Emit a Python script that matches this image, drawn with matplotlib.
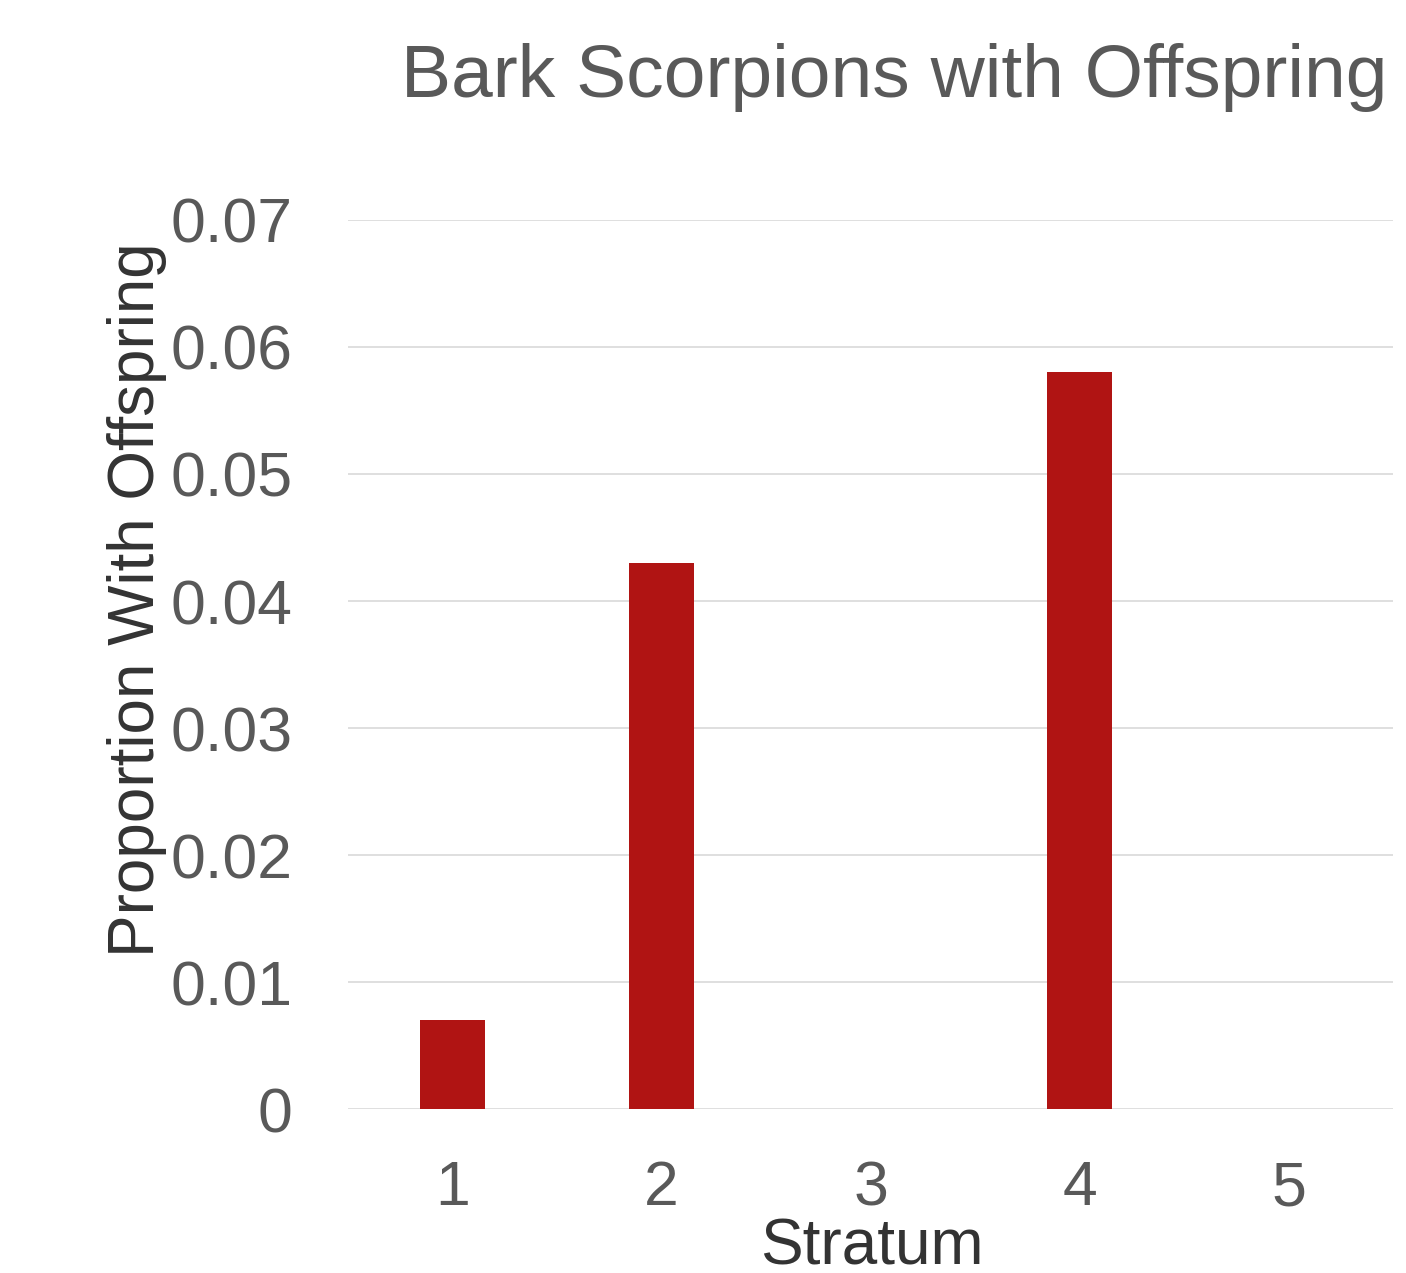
import matplotlib
matplotlib.use("Agg")
import matplotlib.pyplot as plt

# data
strata = [1, 2, 3, 4, 5]
proportion = [0.007, 0.043, 0.0, 0.058, 0.0]
yticks = [0, 0.01, 0.02, 0.03, 0.04, 0.05, 0.06, 0.07]
ytick_labels = ["0", "0.01", "0.02", "0.03", "0.04", "0.05", "0.06", "0.07"]

plt.rcParams['font.family'] = ['Liberation Sans', 'DejaVu Sans']

fig = plt.figure(figsize=(14.06, 12.73), dpi=100)
ax = fig.add_axes([0.2475, 0.1288, 0.7433, 0.6984])

ax.bar(strata, proportion, width=0.315, color='#b01413', zorder=2)

ax.set_xlim(0.5, 5.5)
ax.set_ylim(0, 0.07)
ax.set_yticks(yticks)
ax.set_yticklabels(ytick_labels)
ax.set_xticks(strata)
ax.grid(axis='y', color='#d9d9d9', linewidth=1.2, zorder=0)
for s in ax.spines.values():
    s.set_visible(False)
ax.tick_params(axis='both', length=0, labelsize=45, labelcolor='#595959')
ax.tick_params(axis='y', pad=40)
ax.tick_params(axis='x', pad=36)

# axis titles placed directly (ylabel sits over the tick labels in the original)
fig.text(0.620, 0.0063, 'Stratum', fontsize=46, color='#333333',
         ha='center', va='baseline')
fig.text(0.0975, 0.529, 'Proportion With Offspring', fontsize=46,
         color='#333333', rotation=90, ha='center', va='center')
fig.text(0.987, 1 - 97 / 1273, 'Bark Scorpions with Offspring', fontsize=54,
         color='#595959', ha='right', va='baseline')

fig.savefig('out.png', dpi=100)
